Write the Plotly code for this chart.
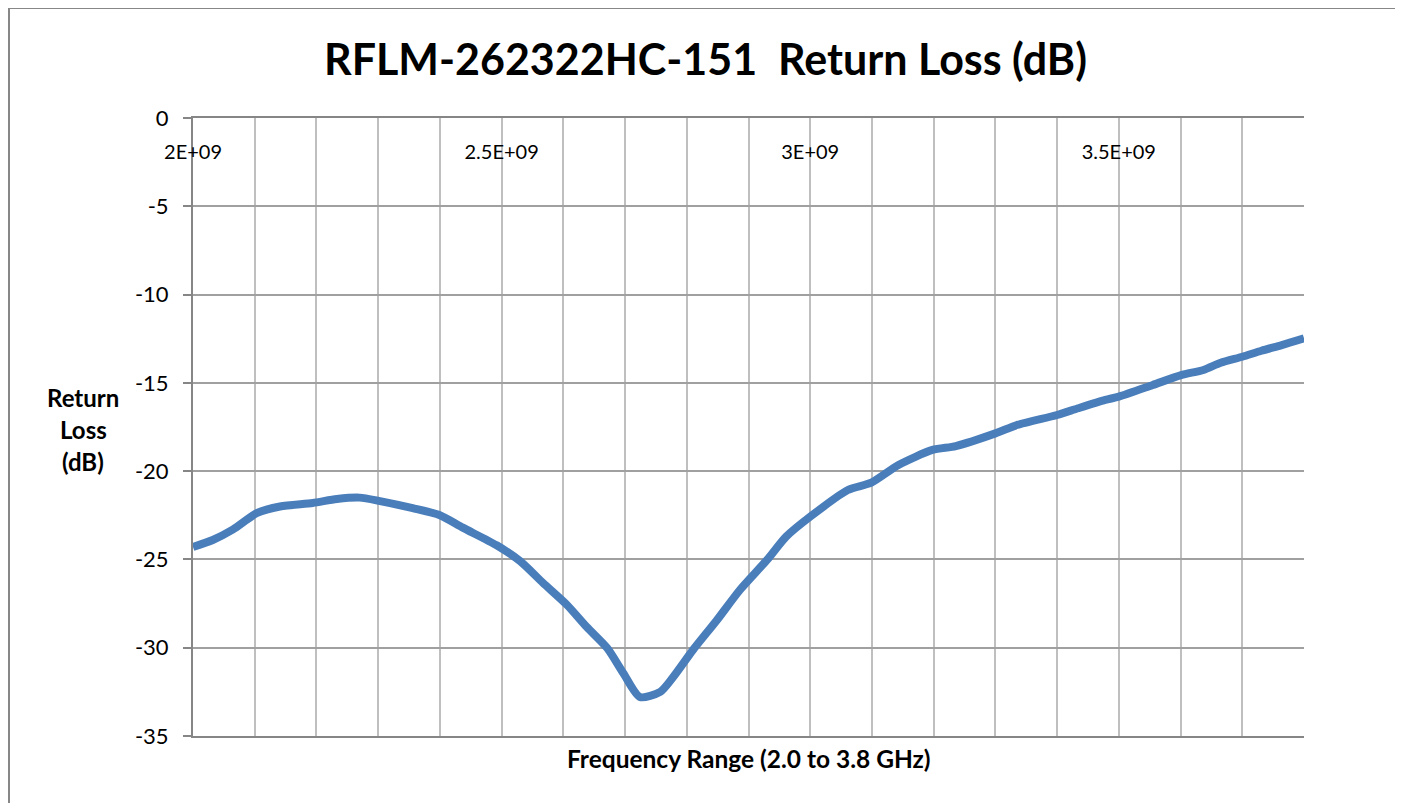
import plotly.graph_objects as go

# Data
freq_ghz = [2.0, 2.032, 2.065, 2.104, 2.141, 2.194, 2.233, 2.27, 2.303, 2.356, 2.4, 2.437,
            2.492, 2.53, 2.567, 2.606, 2.638, 2.671, 2.697, 2.724, 2.757, 2.778, 2.81, 2.849,
            2.886, 2.93, 2.961, 3.0, 3.061, 3.099, 3.143, 3.198, 3.236, 3.3, 3.335, 3.4,
            3.434, 3.478, 3.5, 3.555, 3.601, 3.637, 3.665, 3.7, 3.731, 3.764, 3.8]
return_loss_db = [-24.3, -23.9, -23.3, -22.37, -22.0, -21.8, -21.58, -21.5, -21.7, -22.1, -22.5, -23.2,
                  -24.2, -25.1, -26.33, -27.58, -28.83, -30.02, -31.43, -32.79, -32.5, -31.66, -30.13, -28.43,
                  -26.73, -25.03, -23.71, -22.58, -21.07, -20.65, -19.65, -18.8, -18.58, -17.86, -17.39, -16.82,
                  -16.44, -15.97, -15.78, -15.12, -14.56, -14.27, -13.86, -13.52, -13.18, -12.86, -12.48]

x_tick_vals = [2.0e9 + i * 1e8 for i in range(19)]
x_tick_text = ["2E+09" if i == 0 else "2.5E+09" if i == 5 else "3E+09" if i == 10 else "3.5E+09" if i == 15 else ""
               for i in range(19)]
y_tick_vals = [0, -5, -10, -15, -20, -25, -30, -35]
y_tick_text = ["0", "-5", "-10", "-15", "-20", "-25", "-30", "-35"]

title_text = "RFLM-262322HC-151  Return Loss (dB)"
x_title = "Frequency Range (2.0 to 3.8 GHz)"
y_title_lines = ["Return", "Loss", "(dB)"]

FONT = "Lato, 'Open Sans', sans-serif"

freq_hz = [f * 1e9 for f in freq_ghz]

# figure geometry (page body adds an 8px offset)
W, H = 1395, 795
L, R, T, B = 185, 99, 110, 67
PW, PH = W - L - R, H - T - B


def px(fx):
    return (fx - L) / PW


def py(fy):
    return (H - B - fy) / PH


fig = go.Figure()
fig.add_trace(go.Scatter(
    x=freq_hz, y=return_loss_db, mode="lines",
    line=dict(color="#4A7EBB", width=8, shape="spline", smoothing=0.7),
    hoverinfo="x+y", showlegend=False,
))

fig.update_layout(
    width=W, height=H,
    margin=dict(l=L, r=R, t=T, b=B, autoexpand=False),
    paper_bgcolor="white", plot_bgcolor="white",
    font=dict(family=FONT, color="black"),
    title=dict(text="<b>" + title_text + "</b>", x=0.5, xanchor="center",
               y=1 - 52 / H, yanchor="middle", font=dict(size=43, family=FONT, color="black")),
    xaxis=dict(
        range=[2.0e9, 3.8e9], side="top",
        tickmode="array", tickvals=x_tick_vals, ticktext=x_tick_text,
        ticklabelposition="inside", ticklabeloverflow="allow",
        ticks="inside", ticklen=28, tickcolor="rgba(0,0,0,0)",
        tickfont=dict(size=20, family=FONT, color="black"),
        showgrid=True, gridcolor="#bfbfbf", gridwidth=1.5,
        showline=True, linecolor="#868686", linewidth=2, mirror=True,
        zeroline=False,
    ),
    yaxis=dict(
        range=[-35, 0], tickmode="array", tickvals=y_tick_vals, ticktext=y_tick_text,
        ticklabeloverflow="allow",
        ticks="outside", ticklen=8, tickcolor="#868686", tickwidth=1.5,
        tickfont=dict(size=22, family=FONT, color="black"), ticklabelstandoff=10,
        showgrid=True, gridcolor="#a0a0a0", gridwidth=1.5,
        showline=True, linecolor="#868686", linewidth=2,
        zeroline=False,
    ),
)

# x-axis title
fig.add_annotation(text="<b>" + x_title + "</b>", xref="paper", yref="paper",
                   x=0.5, y=py(750), xanchor="center", yanchor="middle",
                   showarrow=False, font=dict(size=24.5, family=FONT, color="black"))
# y-axis title (horizontal, three lines)
for i, line in enumerate(y_title_lines):
    fig.add_annotation(text="<b>" + line + "</b>", xref="paper", yref="paper",
                       x=px(75), y=py(389 + 32 * i),
                       xanchor="center", yanchor="middle",
                       showarrow=False, font=dict(size=24, family=FONT, color="black"))

# outer chart border
fig.add_shape(type="rect", xref="paper", yref="paper",
              x0=px(1), x1=px(1392), y0=py(H + 20), y1=py(0),
              line=dict(color="#878787", width=2), fillcolor="rgba(0,0,0,0)", layer="below")

fig.write_html("out.html")
